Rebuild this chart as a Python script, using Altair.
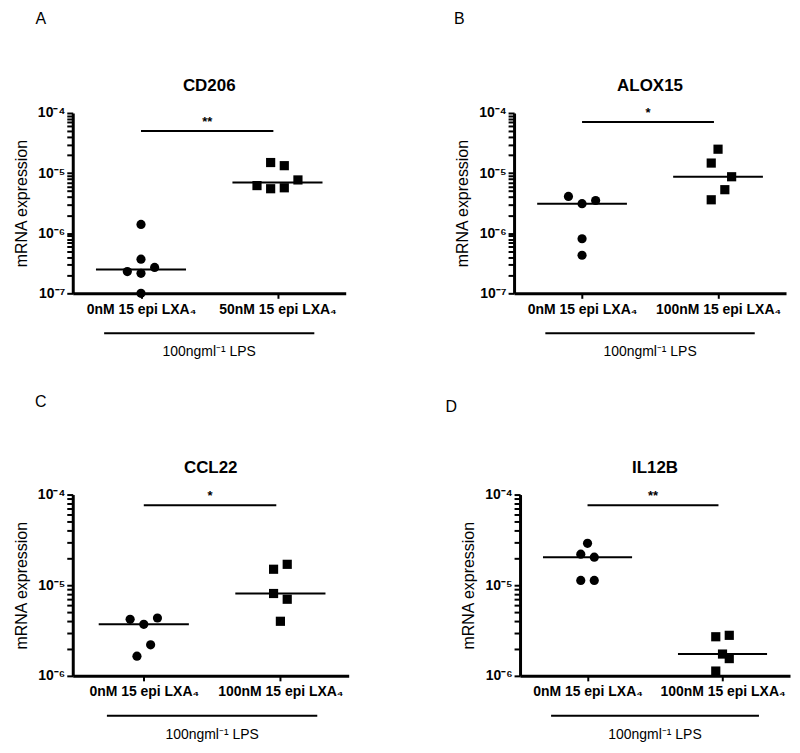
import math
import altair as alt
import pandas as pd

FONT = "Liberation Sans"

letters = ["A", "B", "C", "D"]
genes = ["CD206", "ALOX15", "CCL22", "IL12B"]
x_labels = [
    ["0nM 15 epi LXA₄", "50nM 15 epi LXA₄"],
    ["0nM 15 epi LXA₄", "100nM 15 epi LXA₄"],
    ["0nM 15 epi LXA₄", "100nM 15 epi LXA₄"],
    ["0nM 15 epi LXA₄", "100nM 15 epi LXA₄"],
]
significance = ["**", "*", "*", "**"]
lps_label = "100ngml⁻¹ LPS"
y_title = "mRNA expression"

major_ticks = [1e-7, 1e-6, 1e-5, 1e-4]
major_labels = ["10⁻⁷", "10⁻⁶", "10⁻⁵", "10⁻⁴"]
y_domains = [[1e-7, 1e-4], [1e-7, 1e-4], [1e-6, 1e-4], [1e-6, 1e-4]]

# values: control (circles) and treated (squares)
a_ctrl = [1.4e-6, 3.7e-7, 2.7e-7, 2.3e-7, 2.15e-7, 1.0e-7]
a_ctrl_jit = [0, 0, 0.1, -0.1, 0, 0]
a_trt = [1.5e-5, 1.33e-5, 7.7e-6, 6.2e-6, 5.5e-6, 5.7e-6]
a_trt_jit = [-0.05, 0.05, 0.15, -0.15, -0.05, 0.05]

b_ctrl = [4.1e-6, 3.1e-6, 3.5e-6, 8.1e-7, 4.3e-7]
b_ctrl_jit = [-0.1, 0, 0.1, 0, 0]
b_trt = [2.5e-5, 1.47e-5, 8.7e-6, 5.3e-6, 3.6e-6]
b_trt_jit = [0, -0.05, 0.1, 0.05, -0.05]

c_ctrl = [4.2e-6, 3.7e-6, 4.35e-6, 2.2e-6, 1.65e-6]
c_ctrl_jit = [-0.1, 0, 0.1, 0.05, -0.05]
c_trt = [1.5e-5, 1.7e-5, 8.1e-6, 7.0e-6, 4.0e-6]
c_trt_jit = [-0.05, 0.05, -0.05, 0.05, 0]

d_ctrl = [2.9e-5, 2.2e-5, 2.04e-5, 1.13e-5, 1.13e-5]
d_ctrl_jit = [0, -0.05, 0.05, -0.05, 0.05]
d_trt = [2.7e-6, 2.8e-6, 1.74e-6, 1.55e-6, 1.13e-6]
d_trt_jit = [-0.05, 0.05, 0, 0.05, -0.05]

bracket_y = [5.0e-5, 7.1e-5, 7.6e-5, 7.6e-5]
category_positions = [1, 2]


def minor_ticks(lo, hi):
    vals = []
    e = lo
    while e < hi:
        for m in range(1, 10):
            vals.append(float(f"{m}e{e}"))
        e += 1
    vals.append(float(f"1e{hi}"))
    return vals


def y_label_expr():
    s = "''"
    for v, lab in zip(major_ticks[::-1], major_labels[::-1]):
        s = f"datum.value == {v!r} ? '{lab}' : " + s
    return s


def panel(i, ctrl, ctrl_j, trt, trt_j, width, height, xdom, letter_xy):
    df = pd.DataFrame({
        "grp": [1] * len(ctrl) + [2] * len(trt),
        "v": ctrl + trt,
        "j": ctrl_j + trt_j,
    })
    lo, hi = y_domains[i]
    elo, ehi = round(math.log10(lo)), round(math.log10(hi))
    tick_vals = minor_ticks(elo, ehi)
    labs = x_labels[i]
    xscale = alt.Scale(domain=xdom, nice=False, zero=False)
    X = alt.X(
        "x:Q",
        scale=xscale,
        axis=alt.Axis(
            values=category_positions,
            labelExpr=f"datum.value == 1 ? '{labs[0]}' : datum.value == 2 ? '{labs[1]}' : ''",
            title=None, grid=False, domain=True, ticks=True,
            domainWidth=3, domainColor="black", tickColor="black", tickWidth=2, tickSize=5,
            labelFont=FONT, labelFontSize=14, labelFontWeight="bold",
            labelColor="black", labelPadding=4, labelOverlap=False, labelFlush=False,
        ),
    )
    Y = alt.Y(
        "v:Q",
        scale=alt.Scale(type="log", domain=[lo, hi], nice=False),
        axis=alt.Axis(
            values=tick_vals,
            labelExpr=y_label_expr(),
            title=y_title, titleFont=FONT, titleFontSize=16, titleFontWeight="normal",
            titleColor="black", titlePadding=8,
            grid=False, domain=True, ticks=True,
            domainWidth=3, domainColor="black", tickColor="black", tickWidth=2, tickSize=6,
            labelFont=FONT, labelFontSize=14, labelFontWeight="bold",
            labelColor="black", labelPadding=2, labelOverlap=False, labelFlush=False,
        ),
    )

    pts = alt.Chart(df).transform_calculate(x="datum.grp + datum.j").mark_point(
        filled=True, size=85, opacity=1, color="black"
    ).encode(
        x=X, y=Y,
        shape=alt.Shape("grp:N", scale=alt.Scale(domain=[1, 2], range=["circle", "square"]), legend=None),
    )

    med = alt.Chart(df).transform_aggregate(
        v="median(v)", groupby=["grp"]
    ).transform_calculate(
        x="datum.grp - 0.33", x2="datum.grp + 0.33"
    ).mark_rule(color="black", strokeWidth=2).encode(x=X, x2="x2:Q", y=Y)

    br = pd.DataFrame({"x": [1.0], "x2": [1.97], "v": [bracket_y[i]], "t": [significance[i]]})
    bracket = alt.Chart(br).mark_rule(color="black", strokeWidth=2).encode(x=X, x2="x2:Q", y=Y)
    star = alt.Chart(br).transform_calculate(x="(datum.x + datum.x2) / 2").mark_text(
        font=FONT, fontSize=13, fontWeight="bold", baseline="bottom", dy=-2, color="black"
    ).encode(x=X, y=Y, text="t:N")

    lp = pd.DataFrame({"x": [0.73], "x2": [2.27], "t": [lps_label]})
    lps_line = alt.Chart(lp).mark_rule(color="black", strokeWidth=2).encode(
        x=X, x2="x2:Q", y=alt.value(height + 40)
    )
    lps_text = alt.Chart(lp).transform_calculate(x="(datum.x + datum.x2) / 2").mark_text(
        font=FONT, fontSize=14, baseline="middle", color="black"
    ).encode(x=X, y=alt.value(height + 59), text="t:N")

    tt = pd.DataFrame({"gene": [genes[i]], "letter": [letters[i]]})
    title = alt.Chart(tt).mark_text(
        font=FONT, fontSize=17, fontWeight="bold", baseline="alphabetic", color="black"
    ).encode(x=alt.value(width / 2), y=alt.value(-22), text="gene:N")
    letter = alt.Chart(tt).mark_text(
        font=FONT, fontSize=16, baseline="middle", align="center", color="black"
    ).encode(x=alt.value(letter_xy[0]), y=alt.value(letter_xy[1]), text="letter:N")

    return alt.layer(
        pts, med, bracket, star, lps_line, lps_text, title, letter
    ).properties(width=width, height=height)


pA = panel(0, a_ctrl, a_ctrl_jit, a_trt, a_trt_jit, 274, 181, [0.5, 2.5], (-32, -94))
pB = panel(1, b_ctrl, b_ctrl_jit, b_trt, b_trt_jit, 273, 181, [0.5, 2.5], (-55, -94))
pC = panel(2, c_ctrl, c_ctrl_jit, c_trt, c_trt_jit, 277, 182, [0.48, 2.5], (-32, -93))
pD = panel(3, d_ctrl, d_ctrl_jit, d_trt, d_trt_jit, 271, 182, [0.5, 2.5], (-69, -88))

row1 = alt.hconcat(pA, pB, spacing=169, bounds="flush")
row2 = alt.hconcat(pC, pD, spacing=172, bounds="flush")
chart = alt.vconcat(row1, row2, spacing=383, bounds="flush").properties(
    padding={"left": 5, "top": 2, "right": 2, "bottom": 5}
).configure(background="white").configure_view(stroke=None)

chart.save("out.html", embed_options={"renderer": "svg", "actions": False})
